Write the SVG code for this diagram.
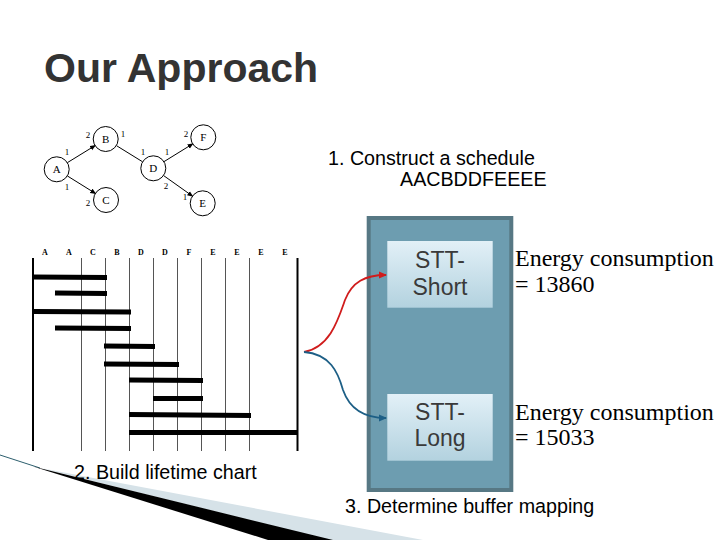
<svg xmlns="http://www.w3.org/2000/svg" width="720" height="540" viewBox="0 0 720 540">
<style>
.title{font-family:"Liberation Sans",Arial,sans-serif;font-weight:bold;font-size:41px;fill:#333}
.cap{font-family:"Liberation Sans",Arial,sans-serif;font-size:19.7px;fill:#000}
.node{fill:#fff;stroke:#000;stroke-width:1}
.nl{font-family:"Liberation Serif","Times New Roman",serif;font-size:11px;fill:#000;text-anchor:middle}
.el{font-family:"Liberation Serif","Times New Roman",serif;font-size:9px;fill:#000;text-anchor:middle}
.edge{stroke:#000;stroke-width:1;fill:none}
.col{font-family:"Liberation Serif","Times New Roman",serif;font-weight:bold;font-size:8px;fill:#000;text-anchor:middle}
.vl{stroke:#555;stroke-width:1}
.vb{stroke:#000;stroke-width:2}
.bar{stroke:#000;stroke-width:5}
.box{font-family:"Liberation Sans",Arial,sans-serif;font-size:23px;fill:#3a3a3a;text-anchor:middle}
.en{font-family:"Liberation Serif","Times New Roman",serif;font-size:24px;fill:#000}
</style>
<defs>
<marker id="ah" markerWidth="6" markerHeight="6" refX="5" refY="3" orient="auto" markerUnits="userSpaceOnUse"><path d="M0,0.5 L6,3 L0,5.5 Z" fill="#000"/></marker>
<marker id="ar" markerWidth="8" markerHeight="8" refX="7" refY="4" orient="auto" markerUnits="userSpaceOnUse"><path d="M0,0.5 L8,4 L0,7.5 Z" fill="#d01c1c"/></marker>
<marker id="ab" markerWidth="8" markerHeight="8" refX="7" refY="4" orient="auto" markerUnits="userSpaceOnUse"><path d="M0,0.5 L8,4 L0,7.5 Z" fill="#1d5f86"/></marker>
<linearGradient id="bg" x1="0" y1="0" x2="0" y2="1"><stop offset="0" stop-color="#e2f0f7"/><stop offset="1" stop-color="#b3d2df"/></linearGradient>
</defs>
<rect width="720" height="540" fill="#fff"/>
<g id="swoosh">
<line x1="0" y1="455" x2="40" y2="468" stroke="#2d5f6e" stroke-width="1"/>
<polygon points="40,468 423,540 330,540" fill="#d6e2e8"/>
<polygon points="33,466.5 333,540 268,540" fill="#000"/>
</g>
<text class="title" x="44" y="82">Our Approach</text>
<text class="cap" x="328" y="165">1. Construct a schedule</text>
<text class="cap" x="400" y="186">AACBDDFEEEE</text>

<g id="graph-edges">
<line class="edge" x1="67.3" y1="162.7" x2="95.1" y2="145.6" marker-end="url(#ah)"/>
<line class="edge" x1="67.3" y1="175.9" x2="95.4" y2="193.4" marker-end="url(#ah)"/>
<line class="edge" x1="116.4" y1="145.6" x2="142.6" y2="161.8"/>
<line class="edge" x1="163.9" y1="161.7" x2="192.7" y2="143.9" marker-end="url(#ah)"/>
<line class="edge" x1="163.5" y1="175.5" x2="192.5" y2="196.1" marker-end="url(#ah)"/>
<text class="el" x="88" y="138">2</text>
<text class="el" x="67" y="155">1</text>
<text class="el" x="123" y="137">1</text>
<text class="el" x="143" y="155">1</text>
<text class="el" x="167" y="155">1</text>
<text class="el" x="186" y="137">2</text>
<text class="el" x="67" y="190">1</text>
<text class="el" x="88" y="206">2</text>
<text class="el" x="166" y="189">2</text>
<text class="el" x="185" y="200">1</text>
</g>
<g id="node-A"><circle class="node" cx="56.7" cy="169.3" r="12.5"/><text class="nl" x="56.7" y="173">A</text></g>
<g id="node-B"><circle class="node" cx="105.7" cy="139" r="12.5"/><text class="nl" x="105.7" y="143">B</text></g>
<g id="node-C"><circle class="node" cx="106" cy="200" r="12.5"/><text class="nl" x="106" y="204">C</text></g>
<g id="node-D"><circle class="node" cx="153.3" cy="168.3" r="12.5"/><text class="nl" x="153.3" y="172">D</text></g>
<g id="node-F"><circle class="node" cx="203.3" cy="137.3" r="12.5"/><text class="nl" x="203.3" y="141">F</text></g>
<g id="node-E"><circle class="node" cx="202.7" cy="203.3" r="12.5"/><text class="nl" x="202.7" y="207">E</text></g>

<g id="lifetime-chart">
<text class="col" x="45" y="255">A</text>
<text class="col" x="69" y="255">A</text>
<text class="col" x="93" y="255">C</text>
<text class="col" x="117" y="255">B</text>
<text class="col" x="141" y="255">D</text>
<text class="col" x="165" y="255">D</text>
<text class="col" x="189" y="255">F</text>
<text class="col" x="213" y="255">E</text>
<text class="col" x="237" y="255">E</text>
<text class="col" x="261" y="255">E</text>
<text class="col" x="285" y="255">E</text>
<line class="vb" x1="33" y1="258" x2="33" y2="451"/>
<line class="vl" x1="81.5" y1="258" x2="81.5" y2="451"/>
<line class="vl" x1="105.5" y1="258" x2="105.5" y2="451"/>
<line class="vl" x1="129.5" y1="258" x2="129.5" y2="451"/>
<line class="vl" x1="153.5" y1="258" x2="153.5" y2="451"/>
<line class="vl" x1="177.5" y1="258" x2="177.5" y2="451"/>
<line class="vl" x1="201.5" y1="258" x2="201.5" y2="451"/>
<line class="vl" x1="225.5" y1="258" x2="225.5" y2="451"/>
<line class="vl" x1="249.5" y1="258" x2="249.5" y2="451"/>
<line class="vb" x1="297.5" y1="258" x2="297.5" y2="451"/>
<line class="bar" x1="33" y1="277" x2="107" y2="277.5"/>
<line class="bar" x1="55" y1="293" x2="107" y2="293.5"/>
<line class="bar" x1="33" y1="311.5" x2="131" y2="312"/>
<line class="bar" x1="55" y1="328" x2="131" y2="328.5"/>
<line class="bar" x1="104" y1="346" x2="155" y2="346.5"/>
<line class="bar" x1="104" y1="364" x2="179" y2="364.5"/>
<line class="bar" x1="129" y1="380" x2="203" y2="380.5"/>
<line class="bar" x1="153" y1="398.5" x2="203" y2="398.5"/>
<line class="bar" x1="129" y1="414.5" x2="251" y2="415.5"/>
<line class="bar" x1="129" y1="432.5" x2="298" y2="432.5"/>
</g>
<text class="cap" x="74" y="479">2. Build lifetime chart</text>

<g id="buffer">
<rect x="368.7" y="218" width="142.6" height="272" fill="#6d9db0" stroke="#577884" stroke-width="4"/>
</g>
<g id="stt-short">
<rect x="387.3" y="241" width="105.4" height="66.7" fill="url(#bg)"/>
<text class="box" x="440" y="268">STT-</text>
<text class="box" x="440" y="295">Short</text>
</g>
<g id="stt-long">
<rect x="387.3" y="394" width="105.4" height="66.7" fill="url(#bg)"/>
<text class="box" x="440" y="420">STT-</text>
<text class="box" x="440" y="446">Long</text>
</g>
<text class="en" x="515" y="266">Energy consumption</text>
<text class="en" x="515" y="292">= 13860</text>
<text class="en" x="515" y="420">Energy consumption</text>
<text class="en" x="515" y="445">= 15033</text>
<text class="cap" x="345" y="513">3. Determine buffer mapping</text>

<g id="connectors">
<path d="M304,352 C330,347 338,320 345,300 C352,282 365,275 386,275" fill="none" stroke="#d01c1c" stroke-width="1.8" marker-end="url(#ar)"/>
<path d="M304,352 C330,354 338,372 343,390 C350,410 365,418 386,418" fill="none" stroke="#1d5f86" stroke-width="1.8" marker-end="url(#ab)"/>
</g>
</svg>
